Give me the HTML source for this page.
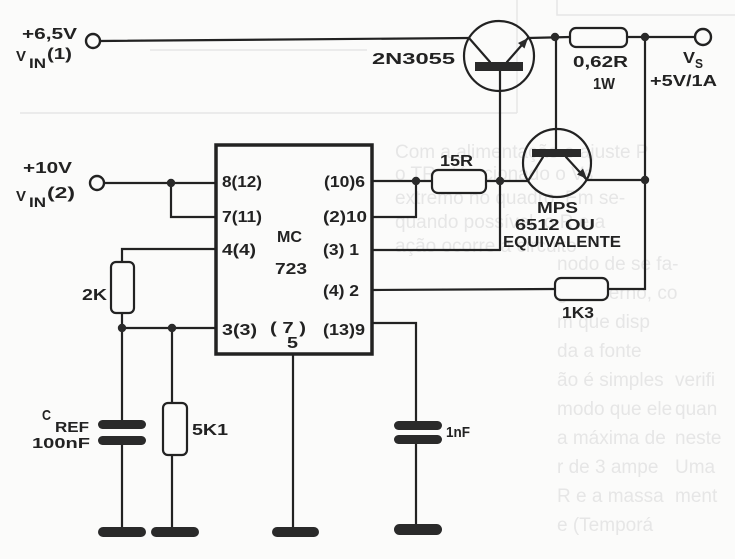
<!DOCTYPE html>
<html>
<head>
<meta charset="utf-8">
<style>
  html,body{margin:0;padding:0;background:#fbfbfa;}
  svg{display:block;}
  .t{font-family:"Liberation Sans",Arial,sans-serif;font-weight:bold;font-size:16px;fill:#222;}
  .b{font-family:"Liberation Sans",Arial,sans-serif;font-size:19px;fill:#e6e6e6;}
</style>
</head>
<body>
<svg width="735" height="559" viewBox="0 0 735 559" xmlns="http://www.w3.org/2000/svg">
  <rect x="0" y="0" width="735" height="559" fill="#fbfbfa"/>

  <!-- faint bleed-through from reverse page -->
  <g stroke="#e6e6e6" stroke-width="1.5" fill="none">
    <line x1="20" y1="113" x2="517" y2="113"/>
    <line x1="517" y1="0" x2="517" y2="113"/>
    <polyline points="557,0 557,15 735,15"/>
    <line x1="150" y1="50" x2="367" y2="50"/>
  </g>
  <g class="b">
    <text x="395" y="158">Com a alimentação e ajuste P</text>
    <text x="395" y="180">o TR até acionado o Vs</text>
    <text x="395" y="204">extremo no quadro. Em se-</text>
    <text x="395" y="228">quando possível, o R e a</text>
    <text x="395" y="252">ação ocorre a circuito</text>
    <text x="557" y="270">nodo de se fa-</text>
    <text x="557" y="299">ga externo, co</text>
    <text x="557" y="328">m que disp</text>
    <text x="557" y="357">da a fonte</text>
    <text x="557" y="386">ão é simples</text>
    <text x="557" y="415">modo que ele</text>
    <text x="557" y="444">a máxima de</text>
    <text x="557" y="473">r de 3 ampe</text>
    <text x="557" y="502">R e a massa</text>
    <text x="557" y="531">e (Temporá</text>
    <text x="675" y="386">verifi</text>
    <text x="675" y="415">quan</text>
    <text x="675" y="444">neste</text>
    <text x="675" y="473">Uma</text>
    <text x="675" y="502">ment</text>
  </g>

  <!-- wiring -->
  <g stroke="#222" stroke-width="2.2" fill="none" stroke-linecap="round">
    <line x1="100" y1="41" x2="469" y2="38"/>
    <circle cx="499" cy="56" r="35"/>
    <line x1="469" y1="38" x2="490" y2="62"/>
    <line x1="507" y1="62" x2="528" y2="38"/>
    <line x1="528" y1="38" x2="570" y2="37"/>
    <line x1="500" y1="71" x2="500" y2="250"/>
    <line x1="627" y1="37" x2="696" y2="37"/>
    <line x1="556" y1="37" x2="556" y2="149"/>
    <circle cx="557" cy="163" r="34"/>
    <line x1="543" y1="157" x2="528" y2="181"/>
    <line x1="566" y1="157" x2="587" y2="180"/>
    <line x1="587" y1="180" x2="645" y2="180"/>
    <polyline points="645,37 645,289 608,289"/>
    <line x1="372" y1="290" x2="555" y2="289"/>
    <line x1="372" y1="181" x2="432" y2="181"/>
    <line x1="486" y1="181" x2="528" y2="181"/>
    <polyline points="372,217 416,217 416,181"/>
    <line x1="372" y1="250" x2="500" y2="250"/>
    <polyline points="372,323 416,323 416,421"/>
    <line x1="416" y1="444" x2="416" y2="525"/>
    <line x1="104" y1="183" x2="216" y2="183"/>
    <polyline points="171,183 171,217 216,217"/>
    <polyline points="216,249 122,249 122,262"/>
    <line x1="122" y1="313" x2="122" y2="420"/>
    <line x1="122" y1="445" x2="122" y2="528"/>
    <line x1="122" y1="328" x2="216" y2="328"/>
    <line x1="172" y1="328" x2="172" y2="403"/>
    <line x1="172" y1="455" x2="172" y2="528"/>
    <line x1="293" y1="354" x2="293" y2="528"/>
  </g>

  <!-- IC body -->
  <rect x="216" y="145" width="156" height="209" fill="none" stroke="#222" stroke-width="3.5"/>

  <!-- terminals -->
  <g fill="#fbfbfa" stroke="#222" stroke-width="2.4">
    <circle cx="93" cy="41" r="7"/>
    <circle cx="97" cy="183" r="7"/>
    <circle cx="703" cy="37" r="8"/>
  </g>

  <!-- resistors -->
  <g fill="#fbfbfa" stroke="#222" stroke-width="2.2">
    <rect x="570" y="28" width="57" height="19" rx="6"/>
    <rect x="432" y="170" width="54" height="23" rx="6"/>
    <rect x="555" y="278" width="53" height="22" rx="6"/>
    <rect x="111" y="262" width="23" height="51" rx="5"/>
    <rect x="163" y="403" width="24" height="52" rx="5"/>
  </g>

  <g fill="#2a2a2a">
    <rect x="475" y="62" width="48" height="9"/>
    <rect x="532" y="149" width="49" height="8"/>
    <polygon points="528,38 524.5,48.5 518,43"/>
    <polygon points="587,179 583,168.5 577,174.5"/>
    <circle cx="555" cy="37" r="4.2"/>
    <circle cx="645" cy="37" r="4.2"/>
    <circle cx="416" cy="181" r="4.2"/>
    <circle cx="500" cy="181" r="4.2"/>
    <circle cx="645" cy="180" r="4.2"/>
    <circle cx="171" cy="183" r="4.2"/>
    <circle cx="122" cy="328" r="4.2"/>
    <circle cx="172" cy="328" r="4.2"/>
    <rect x="98" y="420" width="48" height="9" rx="4.5"/>
    <rect x="98" y="436" width="48" height="9" rx="4.5"/>
    <rect x="394" y="421" width="48" height="9" rx="4.5"/>
    <rect x="394" y="435" width="48" height="9" rx="4.5"/>
    <rect x="98" y="527" width="48" height="10" rx="5"/>
    <rect x="151" y="527" width="48" height="10" rx="5"/>
    <rect x="272" y="527" width="47" height="10" rx="5"/>
    <rect x="394" y="524" width="48" height="11" rx="5.5"/>
  </g>

  <!-- labels -->
  <g class="t">
    <text x="22" y="39" textLength="55" lengthAdjust="spacingAndGlyphs">+6,5V</text>
    <text x="16" y="61" font-size="15" textLength="10" lengthAdjust="spacingAndGlyphs">V</text>
    <text x="29" y="68" font-size="14" textLength="17" lengthAdjust="spacingAndGlyphs">IN</text>
    <text x="47" y="59" textLength="25" lengthAdjust="spacingAndGlyphs">(1)</text>

    <text x="23" y="173" textLength="49" lengthAdjust="spacingAndGlyphs">+10V</text>
    <text x="16" y="201" font-size="15" textLength="10" lengthAdjust="spacingAndGlyphs">V</text>
    <text x="29" y="207" font-size="14" textLength="17" lengthAdjust="spacingAndGlyphs">IN</text>
    <text x="47" y="198" textLength="28" lengthAdjust="spacingAndGlyphs">(2)</text>

    <text x="372" y="64" textLength="83" lengthAdjust="spacingAndGlyphs">2N3055</text>
    <text x="573" y="67" textLength="55" lengthAdjust="spacingAndGlyphs">0,62R</text>
    <text x="593" y="89" textLength="22" lengthAdjust="spacingAndGlyphs">1W</text>
    <text x="683" y="63" textLength="12" lengthAdjust="spacingAndGlyphs">V</text>
    <text x="695" y="68" font-size="13" textLength="8" lengthAdjust="spacingAndGlyphs">S</text>
    <text x="650" y="86" textLength="67" lengthAdjust="spacingAndGlyphs">+5V/1A</text>

    <text x="440" y="166" textLength="33" lengthAdjust="spacingAndGlyphs">15R</text>
    <text x="537" y="213" textLength="41" lengthAdjust="spacingAndGlyphs">MPS</text>
    <text x="515" y="230" textLength="80" lengthAdjust="spacingAndGlyphs">6512 OU</text>
    <text x="503" y="247" textLength="118" lengthAdjust="spacingAndGlyphs">EQUIVALENTE</text>
    <text x="562" y="318" textLength="32" lengthAdjust="spacingAndGlyphs">1K3</text>

    <text x="222" y="187" textLength="40" lengthAdjust="spacingAndGlyphs">8(12)</text>
    <text x="222" y="222" textLength="40" lengthAdjust="spacingAndGlyphs">7(11)</text>
    <text x="222" y="255" textLength="34" lengthAdjust="spacingAndGlyphs">4(4)</text>
    <text x="222" y="335" textLength="35" lengthAdjust="spacingAndGlyphs">3(3)</text>
    <text x="324" y="187" textLength="41" lengthAdjust="spacingAndGlyphs">(10)6</text>
    <text x="323" y="222" textLength="44" lengthAdjust="spacingAndGlyphs">(2)10</text>
    <text x="323" y="255" textLength="36" lengthAdjust="spacingAndGlyphs">(3) 1</text>
    <text x="323" y="296" textLength="36" lengthAdjust="spacingAndGlyphs">(4) 2</text>
    <text x="323" y="335" textLength="42" lengthAdjust="spacingAndGlyphs">(13)9</text>
    <text x="277" y="242" textLength="25" lengthAdjust="spacingAndGlyphs">MC</text>
    <text x="275" y="274" textLength="32" lengthAdjust="spacingAndGlyphs">723</text>
    <text x="270" y="333" textLength="36" lengthAdjust="spacingAndGlyphs">( 7 )</text>
    <text x="287" y="348" textLength="11" lengthAdjust="spacingAndGlyphs">5</text>

    <text x="82" y="300" textLength="25" lengthAdjust="spacingAndGlyphs">2K</text>
    <text x="42" y="420" font-size="15" textLength="9" lengthAdjust="spacingAndGlyphs">C</text>
    <text x="55" y="432" font-size="15" textLength="34" lengthAdjust="spacingAndGlyphs">REF</text>
    <text x="32" y="448" font-size="15" textLength="58" lengthAdjust="spacingAndGlyphs">100nF</text>
    <text x="192" y="435" textLength="36" lengthAdjust="spacingAndGlyphs">5K1</text>
    <text x="446" y="437" font-size="15" textLength="24" lengthAdjust="spacingAndGlyphs">1nF</text>
  </g>
</svg>
</body>
</html>
